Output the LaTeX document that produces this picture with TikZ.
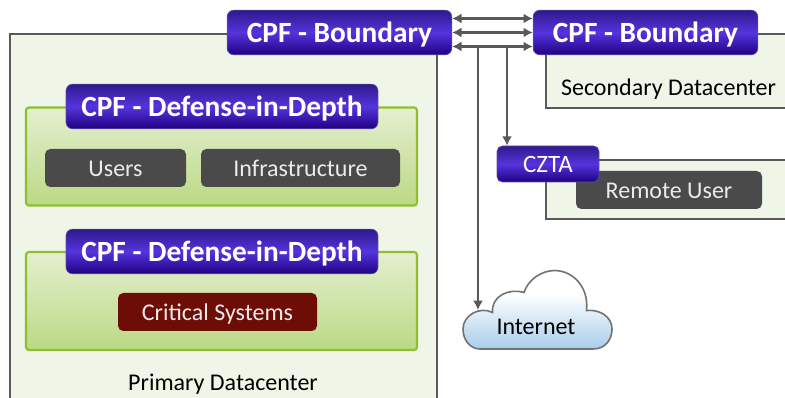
\documentclass[tikz,border=0pt]{standalone}
\usepackage{fontspec}
\setmainfont{Carlito}
\usetikzlibrary{arrows.meta}
\definecolor{cpfbot}{HTML}{1F0080}
\definecolor{cpfmid}{HTML}{5534DE}
\definecolor{cpftop}{HTML}{2E1A8C}
\definecolor{grnbot}{HTML}{BBD984}
\definecolor{grntop}{HTML}{E4EFD0}
\definecolor{cldbot}{HTML}{A9CDEB}
\definecolor{zone}{HTML}{EFF6E7}
\definecolor{edgegray}{HTML}{595959}
\definecolor{darkbox}{HTML}{4A4A4A}
\definecolor{critbox}{HTML}{6E0C06}
\definecolor{grnedge}{HTML}{8FBE32}
\pgfdeclareverticalshading{cpfshade}{100bp}{color(0bp)=(cpfbot);color(25bp)=(cpfbot);color(50bp)=(cpfmid);color(75bp)=(cpftop);color(100bp)=(cpftop)}
\pgfdeclareverticalshading{greenshade}{100bp}{color(0bp)=(grnbot);color(25bp)=(grnbot);color(75bp)=(grntop);color(100bp)=(grntop)}
\pgfdeclareverticalshading{cloudshade}{100bp}{color(0bp)=(cldbot);color(25bp)=(cldbot);color(60bp)=(white);color(100bp)=(white)}
\tikzset{
  x=0.75pt,y=-0.75pt,
  zonebox/.style={draw=edgegray,line width=1.5pt,fill=zone},
  greenbox/.style={draw=grnedge,line width=1.6pt,rounded corners=2.2pt,shading=greenshade},
  cpf/.style={rectangle,draw=cpfbot!70!white,line width=0.5pt,rounded corners=5pt,shading=cpfshade,text=white,font=\fontsize{22}{25}\selectfont\bfseries,text height=15.5pt,text depth=0pt,inner sep=0pt,minimum height=33.5pt,minimum width=168.5pt},
  defense/.style={cpf,minimum width=234pt},
  cztabox/.style={cpf,font=\fontsize{18.7}{22}\selectfont,text height=13pt,minimum width=76.5pt,minimum height=27pt,rounded corners=4pt},
  itembox/.style={rectangle,fill=darkbox,rounded corners=4pt,text=white!92!black,font=\fontsize{18}{22}\selectfont,text height=13pt,text depth=0pt,inner sep=0pt,minimum height=28.5pt},
  crit/.style={itembox,fill=critbox},
  plaintext/.style={font=\fontsize{18}{22}\selectfont,text=black,text height=13pt,text depth=0pt,inner sep=0pt},
  linkline/.style={draw=edgegray,line width=2pt,{Latex[length=7pt,width=7.5pt]}-{Latex[length=7pt,width=7.5pt]}},
  dropline/.style={draw=edgegray,line width=2pt,-{Latex[length=7pt,width=7.5pt]}},
}
\begin{document}
\begin{tikzpicture}
\useasboundingbox (0,0) rectangle (785,398);
\clip (0,0) rectangle (785,398);
% zones
\draw[zonebox] (9.5,34.5) rectangle (436.5,420);
\draw[zonebox] (545.5,34.5) rectangle (800,108);
\draw[zonebox] (545.5,160.5) rectangle (800,219.5);
\draw[greenbox] (26,107.5) rectangle (417,205.5);
\draw[greenbox] (26,252) rectangle (417,350);
% labels
\node[plaintext] (primary) at (223,382) {Primary Datacenter};
\node[plaintext] (secondary) at (668.5,87) {Secondary Datacenter};
% items
\node[itembox,minimum width=105.75pt] (users) at (115.5,168) {Users};
\node[itembox,minimum width=149.25pt] (infra) at (300.5,168) {Infrastructure};
\node[crit,minimum width=149.25pt] (critical) at (217.5,312) {Critical Systems};
\node[itembox,minimum width=139.5pt] (remote) at (669,190) {Remote User};
% headers
\node[cpf] (bl) at (339.5,32.5) {CPF - Boundary};
\node[cpf] (br) at (645.5,32.5) {CPF - Boundary};
\node[defense] (d1) at (222,106.5) {CPF - Defense-in-Depth};
\node[defense] (d2) at (222,251.5) {CPF - Defense-in-Depth};
\node[cztabox] (czta) at (548,164) {CZTA};
% cloud
\draw[draw=edgegray!85!white,line width=1.2pt,shading=cloudshade]
  (480,349) -- (593,349)
  .. controls (606,349) and (612,339) .. (612,329)
  .. controls (612,317) and (600,309) .. (586.5,310.5)
  .. controls (589,288) and (574,271) .. (555,270.5)
  .. controls (541,270.5) and (528,280) .. (524,292.5)
  .. controls (509,288) and (491,296) .. (492.5,312.5)
  .. controls (480,306) and (463,315) .. (463,329)
  .. controls (463,340) and (470,349) .. (480,349) -- cycle;
\node[plaintext] (internet) at (536,326) {Internet};
\coordinate (cloudtop) at (478,310);
% connectors
\coordinate (a1) at ([yshift=10.5pt]bl.east);
\coordinate (b1) at ([yshift=10.5pt]br.west);
\coordinate (a3) at ([yshift=-10.5pt]bl.east);
\coordinate (b3) at ([yshift=-10.5pt]br.west);
\coordinate (t1) at (478,46);
\coordinate (t2) at (507,46);
\draw[linkline] (a1) -- (b1);
\draw[linkline] (bl.east) -- (br.west);
\draw[linkline] (a3) -- (b3);
\draw[dropline] (t1) -- (cloudtop);
\draw[dropline] (t2) -- (t2 |- czta.north);
\end{tikzpicture}
\end{document}
